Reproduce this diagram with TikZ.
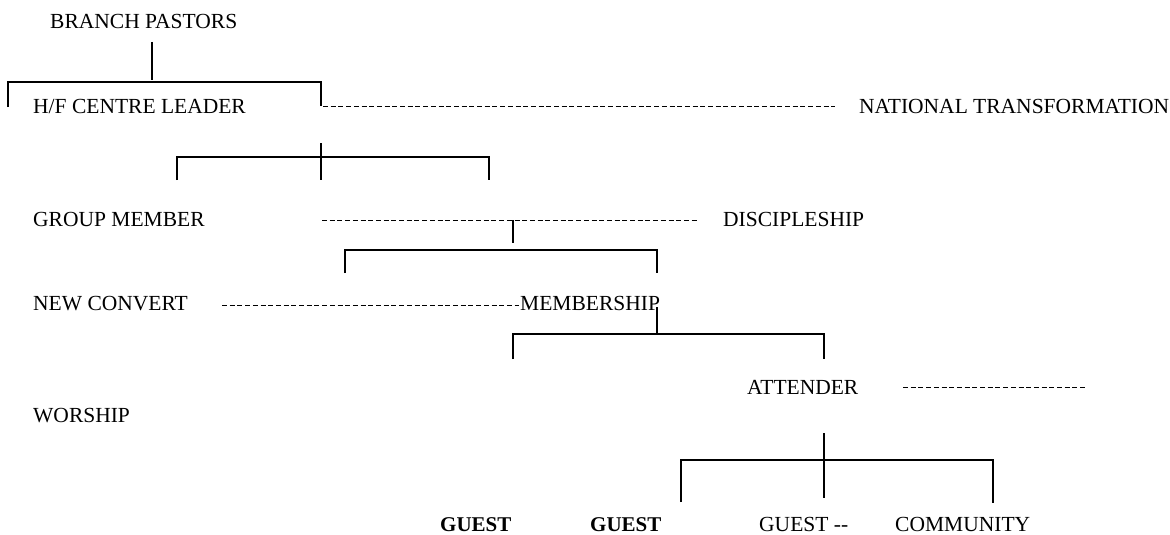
\documentclass[tikz,border=0pt]{standalone}
\usepackage{fontspec}
\setmainfont{Liberation Serif}
\begin{document}
\begin{tikzpicture}[x=1pt,y=-1pt,
  lbl/.style={anchor=base west, inner sep=0pt, font=\fontsize{21.5}{25}\selectfont},
  blbl/.style={anchor=base west, inner sep=0pt, font=\fontsize{21}{25}\selectfont\bfseries},
  tree/.style={line width=1.6pt},
  dots/.style={line width=0.9pt, dash pattern=on 5pt off 2.7pt}]
\useasboundingbox (0,0) rectangle (1170,535);
% labels
\node[lbl] (bp)  at (50,29)   {BRANCH PASTORS};
\node[lbl] (hf)  at (33,113)  {H/F CENTRE LEADER};
\node[lbl] (nt)  at (859,113) {NATIONAL TRANSFORMATION};
\node[lbl] (gm)  at (33,226)  {GROUP MEMBER};
\node[lbl] (dis) at (723,226) {DISCIPLESHIP};
\node[lbl] (nc)  at (33,310)  {NEW CONVERT};
\node[lbl] (mem) at (520,310) {MEMBERSHIP};
\node[lbl] (att) at (747,394) {ATTENDER};
\node[lbl] (wor) at (33,422)  {WORSHIP};
\node[blbl] (g1) at (440,531) {GUEST};
\node[blbl] (g2) at (590,531) {GUEST};
\node[lbl] (g3)  at (759,531) {GUEST -{}-};
\node[lbl] (com) at (895,531) {COMMUNITY};
% bracket coordinates
\coordinate (a0) at (152,42);  \coordinate (a1) at (152,80);
\coordinate (aL) at (8,107);   \coordinate (aR) at (321,106);
\coordinate (b0) at (321,143); \coordinate (b1) at (321,180);
\coordinate (bL) at (177,180); \coordinate (bR) at (489,180);
\coordinate (c0) at (513,220); \coordinate (c1) at (513,243);
\coordinate (cL) at (345,273); \coordinate (cR) at (657,273);
\coordinate (d0) at (657,307); \coordinate (d1) at (657,334);
\coordinate (dL) at (513,359); \coordinate (dR) at (824,359);
\coordinate (e0) at (824,433); \coordinate (e1) at (824,498);
\coordinate (eL) at (681,502); \coordinate (eR) at (993,503);
% dashed line ends
\coordinate (n0) at (323,106); \coordinate (n1) at (835,106);
\coordinate (m0) at (322,220); \coordinate (m1) at (698,220);
\coordinate (k0) at (222,305); \coordinate (k1) at (519,305);
\coordinate (t0) at (903,387); \coordinate (t1) at (1087,387);
% solid tree lines
\draw[tree] (a0) -- (a1);
\draw[tree] (aL) |- (152,82) -| (aR);
\draw[tree] (b0) -- (b1);
\draw[tree] (bL) |- (321,157) -| (bR);
\draw[tree] (c0) -- (c1);
\draw[tree] (cL) |- (513,250) -| (cR);
\draw[tree] (d0) -- (d1);
\draw[tree] (dL) |- (657,334) -| (dR);
\draw[tree] (e0) -- (e1);
\draw[tree] (eL) |- (824,460) -| (eR);
% dashed lines
\draw[dots] (n0) -- (n1);
\draw[dots] (m0) -- (m1);
\draw[dots] (k0) -- (k1);
\draw[dots] (t0) -- (t1);
\end{tikzpicture}
\end{document}
